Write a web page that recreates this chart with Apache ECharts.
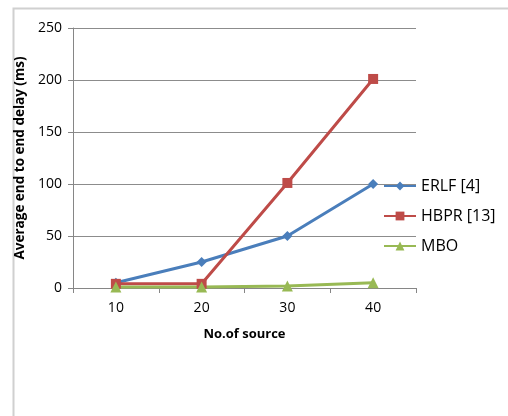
<!DOCTYPE html>
<html><head><meta charset="utf-8">
<script src="https://cdn.jsdelivr.net/npm/echarts@6/dist/echarts.min.js"></script>
<style>html,body{margin:0;padding:0;background:#fff}#c{width:508px;height:416px}</style>
</head><body><div id="c"></div>
<script>
const categories = ['10', '20', '30', '40'];
const erlf = [5, 25, 50, 100];
const hbpr = [4, 4, 101, 201];
const mbo = [1, 1, 2, 5];
const seriesNames = ['ERLF [4]', 'HBPR [13]', 'MBO'];
const yTicks = { min: 0, max: 250, interval: 50 };

const chart = echarts.init(document.getElementById('c'), null, { renderer: 'canvas' });
const font = '"Open Sans", Lato, sans-serif';
chart.setOption({
  animation: false,
  backgroundColor: '#fff',
  graphic: [{
    type: 'rect', shape: { x: 13.5, y: 8.5, width: 520, height: 430 },
    style: { fill: 'none', stroke: '#d0d0d0', lineWidth: 2 }, silent: true
  }],
  grid: { left: 73, right: 92, top: 28, bottom: 128 },
  legend: {
    orient: 'vertical', left: 378, top: 173, itemGap: 14,
    itemWidth: 32, itemHeight: 11,
    textStyle: { fontFamily: font, fontSize: 16, color: '#000' },
    data: seriesNames
  },
  xAxis: {
    type: 'category', data: categories, boundaryGap: true,
    name: 'No.of source', nameLocation: 'middle', nameGap: 40,
    nameTextStyle: { fontFamily: font, fontSize: 13, fontWeight: 'bold', color: '#000' },
    axisLine: { lineStyle: { color: '#868686', width: 1 } },
    axisTick: { show: true, length: 5, lineStyle: { color: '#868686' } },
    axisLabel: { fontFamily: font, fontSize: 14, color: '#000', margin: 13 }
  },
  yAxis: {
    type: 'value', min: yTicks.min, max: yTicks.max, interval: yTicks.interval,
    name: 'Average end to end delay (ms)', nameLocation: 'middle', nameGap: 40,
    nameTextStyle: { fontFamily: font, fontSize: 13.5, fontWeight: 'bold', color: '#000' },
    axisLine: { show: true, lineStyle: { color: '#868686', width: 1 } },
    axisTick: { show: true, length: 5, lineStyle: { color: '#868686' } },
    axisLabel: { fontFamily: font, fontSize: 14, color: '#000', margin: 11 },
    splitLine: { lineStyle: { color: '#8c8c8c', width: 1 } }
  },
  series: [
    { name: seriesNames[0], type: 'line', data: erlf, symbol: 'diamond', symbolSize: 10,
      lineStyle: { color: '#4a7ebb', width: 3 }, itemStyle: { color: '#4a7ebb' } },
    { name: seriesNames[1], type: 'line', data: hbpr, symbol: 'rect', symbolSize: 10,
      lineStyle: { color: '#be4b48', width: 3 }, itemStyle: { color: '#be4b48' } },
    { name: seriesNames[2], type: 'line', data: mbo, symbol: 'triangle', symbolSize: 11,
      lineStyle: { color: '#98b954', width: 3 }, itemStyle: { color: '#98b954' } }
  ]
});
</script></body></html>
